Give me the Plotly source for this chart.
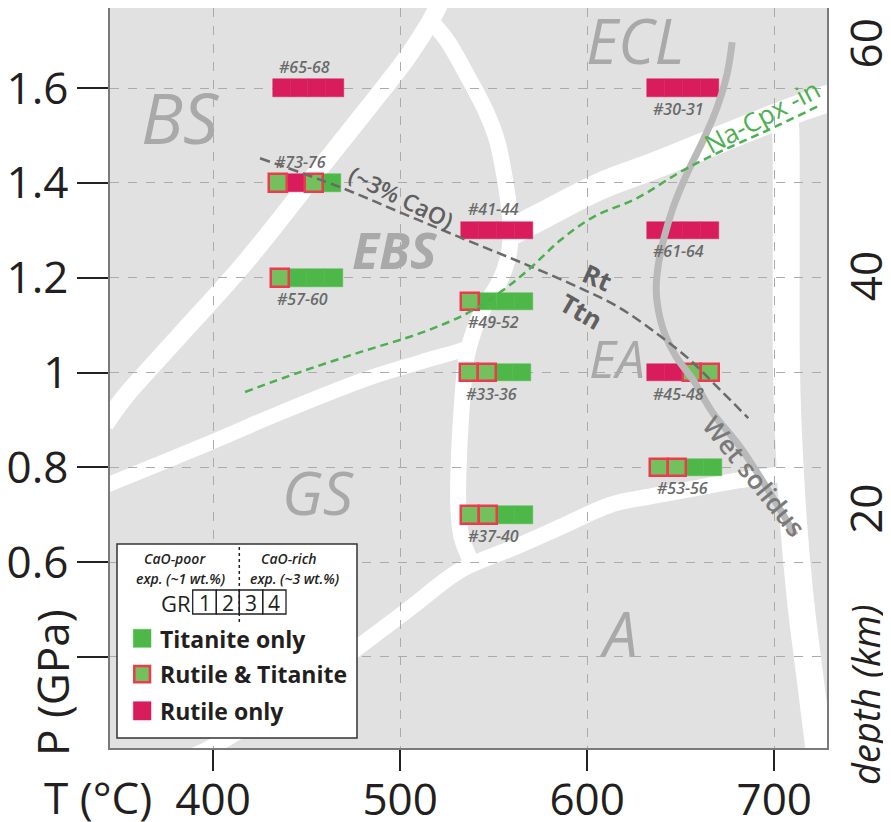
import plotly.graph_objects as go

# ---------------- data ----------------
# experiment bars: centre temperature (°C), pressure (GPa), sample label, label above?, GR1-4 phases
bar_T = [451, 449, 450, 552, 552, 551, 552, 651, 651, 651, 653]
bar_P = [1.60, 1.40, 1.20, 1.30, 1.15, 1.00, 0.70, 1.60, 1.30, 1.00, 0.80]
bar_label = ["#65-68", "#73-76", "#57-60", "#41-44", "#49-52", "#33-36", "#37-40",
             "#30-31", "#61-64", "#45-48", "#53-56"]
bar_label_above = [True, True, False, True, False, False, False, False, False, False, False]
# R = rutile only, RT = rutile & titanite, T = titanite only
bar_phases = [
    ["R", "R", "R", "R"],
    ["RT", "R", "RT", "T"],
    ["RT", "T", "T", "T"],
    ["R", "R", "R", "R"],
    ["RT", "T", "T", "T"],
    ["RT", "RT", "T", "T"],
    ["RT", "RT", "T", "T"],
    ["R", "R", "R", "R"],
    ["R", "R", "R", "R"],
    ["R", "R", "RT", "RT"],
    ["RT", "RT", "T", "T"],
]
cell_width_T = 9.6      # °C per GR cell
cell_height_P = 0.037   # GPa

# white facies-boundary bands (T, P)
bs_T = [342.2, 354.5, 382.4, 418.2, 457.2, 484.0, 502.7, 515.0, 521.4]
bs_P = [0.891, 0.957, 1.079, 1.237, 1.431, 1.564, 1.659, 1.733, 1.781]

ebs_T = [517.1, 525.7, 535.8, 545.5, 551.9, 556.1, 558.8, 558.3, 553.5, 545.5, 539.6,
         535.3, 533.2, 531.6, 531.0, 532.6, 537.4]
ebs_P = [1.739, 1.697, 1.627, 1.554, 1.488, 1.406, 1.322, 1.254, 1.195, 1.142, 1.090,
         1.026, 0.942, 0.837, 0.731, 0.657, 0.605]

gs_T = [342.2, 393.0, 435.8, 478.6, 510.7, 529.4, 536.4]
gs_P = [0.761, 0.843, 0.915, 0.982, 1.022, 1.043, 1.052]

ecl_T = [556.1, 577.5, 606.9, 633.7, 660.4, 692.5, 713.9, 732.6]
ecl_P = [1.290, 1.334, 1.393, 1.433, 1.475, 1.526, 1.558, 1.583]

rv_T = [705.9, 706.4, 706.4, 706.4, 707.5, 710.2, 714.0, 719.3, 724.6]
rv_P = [1.549, 1.448, 1.258, 1.047, 0.879, 0.689, 0.520, 0.351, 0.183]

low_T = [390.4, 401.1, 435.8, 477.0, 505.3, 532.1, 560.4, 585.6, 612.3, 635.3, 660.4,
         681.8, 697.9, 711.2]
low_P = [0.193, 0.214, 0.299, 0.419, 0.503, 0.583, 0.630, 0.674, 0.721, 0.740, 0.758,
         0.773, 0.782, 0.794]

# wet solidus
ws_T = [677.5, 674.9, 669.5, 662.0, 653.5, 646.0, 641.2, 638.0, 636.9, 638.0, 641.7,
        647.6, 656.7, 666.8, 681.8, 696.8, 711.2]
ws_P = [1.697, 1.632, 1.560, 1.490, 1.421, 1.349, 1.286, 1.227, 1.174, 1.132, 1.079,
        1.033, 0.984, 0.917, 0.843, 0.752, 0.657]

# rutile / titanite boundary (~3% CaO)
rt_T = [425.1, 467.9, 500.0, 532.1, 564.2, 596.3, 617.6, 639.0, 655.1, 668.4, 686.1]
rt_P = [1.452, 1.391, 1.338, 1.285, 1.233, 1.178, 1.136, 1.077, 1.026, 0.974, 0.904]

# Na-Cpx-in
cpx_T = [417.1, 446.5, 478.6, 510.7, 535.8, 555.1, 569.5, 585.6, 603.2, 626.7, 649.7,
         669.5, 696.3, 724.6]
cpx_P = [0.959, 1.001, 1.043, 1.083, 1.125, 1.174, 1.220, 1.279, 1.328, 1.368, 1.423,
         1.463, 1.511, 1.564]

# field labels
field_text = ["BS", "ECL", "EBS", "EA", "GS", "A"]
field_T = [382.4, 625.7, 497.3, 616.0, 456.1, 616.6]
field_P = [1.539, 1.701, 1.258, 1.031, 0.748, 0.451]

x_ticks = [400, 500, 600, 700]
y_ticks = [0.4, 0.6, 0.8, 1.0, 1.2, 1.4, 1.6]
y_ticktext = ["", "0.6", "0.8", "1", "1.2", "1.4", "1.6"]
depth_ticks = [20, 40, 60]

T_range = [344.9, 728.2]
P_range = [0.208, 1.769]
depth_range = [0.0, 63.6]

# ---------------- styles ----------------
FONT = "Open Sans"
C_TTN = "#4db848"
C_RT_FILL = "#74c05c"
C_RT_LINE = "#ec3a4e"
C_RUT = "#d81c5c"
BG = "#e1e1e1"
FIELD_C = "#a9a9a9"

# the page body has an 8 px margin: figure is drawn from (8, 8) in the window
OFF = 8
W, H = 891 - OFF, 822 - OFF
ML, MR, MT, MB = 102, 64, 0, 74
PW, PH = W - ML - MR, H - MT - MB


def px2paper(px, py):
    fx, fy = px - OFF, py - OFF
    return (fx - ML) / PW, (H - MB - fy) / PH


def smooth_path(xs, ys):
    pts = list(zip(xs, ys))
    n = len(pts)
    d = f"M {pts[0][0]},{pts[0][1]}"
    for i in range(n - 1):
        p0 = pts[i - 1] if i > 0 else pts[i]
        p1 = pts[i]
        p2 = pts[i + 1]
        p3 = pts[i + 2] if i + 2 < n else pts[i + 1]
        c1 = (p1[0] + (p2[0] - p0[0]) / 6, p1[1] + (p2[1] - p0[1]) / 6)
        c2 = (p2[0] - (p3[0] - p1[0]) / 6, p2[1] - (p3[1] - p1[1]) / 6)
        d += f" C {c1[0]},{c1[1]} {c2[0]},{c2[1]} {p2[0]},{p2[1]}"
    return d


fig = go.Figure()
shapes = []
annotations = []

# white bands (below grid)
for xs, ys, w in [(bs_T, bs_P, 18), (ebs_T, ebs_P, 16), (gs_T, gs_P, 15),
                  (ecl_T, ecl_P, 27), (rv_T, rv_P, 27), (low_T, low_P, 16)]:
    shapes.append(dict(type="path", path=smooth_path(xs, ys), xref="x", yref="y",
                       line=dict(color="white", width=w), fillcolor="rgba(0,0,0,0)",
                       layer="below"))

# field labels
for t, x, y in zip(field_text, field_T, field_P):
    size = {"BS": 70, "ECL": 62, "EBS": 50, "EA": 52, "GS": 60, "A": 62}[t]
    annotations.append(dict(x=x, y=y, xref="x", yref="y", text=t, showarrow=False,
                            font=dict(family=FONT, size=size, color=FIELD_C,
                                      style="italic",
                                      weight=700 if t == "EBS" else 400)))

# wet solidus
fig.add_trace(go.Scatter(x=ws_T, y=ws_P, mode="lines", line=dict(color="#b9b9b9", width=7, shape="spline"),
                         hoverinfo="skip", showlegend=False))
# Rt/Ttn
fig.add_trace(go.Scatter(x=rt_T, y=rt_P, mode="lines",
                         line=dict(color="#6a6a6a", width=2.5, dash="10px,5px", shape="spline"),
                         hoverinfo="skip", showlegend=False))
# Na-Cpx-in
fig.add_trace(go.Scatter(x=cpx_T, y=cpx_P, mode="lines",
                         line=dict(color="#4caf50", width=2.5, dash="8px,5px", shape="spline"),
                         hoverinfo="skip", showlegend=False))

# bars
cells = {"R": ([], [], []), "RT": ([], [], []), "T": ([], [], [])}
for tc, p, phases in zip(bar_T, bar_P, bar_phases):
    left = tc - 2 * cell_width_T
    for i, ph in enumerate(phases):
        cells[ph][0].append(p)
        cells[ph][1].append(left + i * cell_width_T)
        cells[ph][2].append(cell_width_T)
styles = {"T": (C_TTN, C_TTN, 0.5), "R": (C_RUT, C_RUT, 0.5), "RT": (C_RT_FILL, C_RT_LINE, 2.5)}
for ph in ["T", "R", "RT"]:
    ys, bases, ws = cells[ph]
    fill, lc, lw = styles[ph]
    fig.add_trace(go.Bar(y=ys, x=ws, base=bases, orientation="h",
                         width=[cell_height_P] * len(ys),
                         marker=dict(color=fill, line=dict(color=lc, width=lw)),
                         hoverinfo="skip", showlegend=False))

for tc, p, lab, above in zip(bar_T, bar_P, bar_label, bar_label_above):
    annotations.append(dict(x=tc - 2, y=p, xref="x", yref="y", text=lab, showarrow=False,
                            yshift=21 if above else -21,
                            font=dict(family=FONT, size=16, color="#6a6a6a",
                                      style="italic", weight=600)))

# line labels
annotations += [
    dict(x=500.5, y=1.370, xref="x", yref="y", text="(~3% CaO)", showarrow=False, textangle=26,
         font=dict(family=FONT, size=23, color="#5f5f5f", weight=600)),
    dict(x=605.3, y=1.201, xref="x", yref="y", text="Rt", showarrow=False, textangle=24,
         font=dict(family=FONT, size=26, color="#5f5f5f", weight=700)),
    dict(x=596.8, y=1.130, xref="x", yref="y", text="Ttn", showarrow=False, textangle=30,
         font=dict(family=FONT, size=26, color="#5f5f5f", weight=700)),
    dict(x=693.6, y=1.541, xref="x", yref="y", text="Na-Cpx -in", showarrow=False, textangle=-28,
         font=dict(family=FONT, size=26, color="#4caf50")),
    dict(x=689.3, y=0.782, xref="x", yref="y", text="Wet solidus", showarrow=False, textangle=51,
         font=dict(family=FONT, size=26, color="#7a7a7a", weight=600)),
]


def label(px, py, text, size, **kw):
    a, b = px2paper(px, py)
    f = dict(family=FONT, size=size, color="#231f20")
    f.update(kw.pop("font", {}))
    d = dict(x=a, y=b, xref="paper", yref="paper", text=text, showarrow=False, font=f,
             xanchor="center", yanchor="middle")
    d.update(kw)
    annotations.append(d)


def rect(x0, y0, x1, y1, **kw):
    a0, b0 = px2paper(x0, y1)
    a1, b1 = px2paper(x1, y0)
    d = dict(type="rect", xref="paper", yref="paper", x0=a0, y0=b0, x1=a1, y1=b1)
    d.update(kw)
    shapes.append(d)


# axis titles
label(98, 797, "T (°C)", 44)
label(52, 683, "P (GPa)", 44, textangle=-90)
label(865, 695, "depth (km)", 38, textangle=-90, font=dict(style="italic"))

# ---------- key box ----------
rect(117, 544, 357, 738, line=dict(color="#333333", width=1.5), fillcolor="white", layer="above")
a0, b0 = px2paper(239.3, 547)
a1, b1 = px2paper(239.3, 622)
shapes.append(dict(type="line", xref="paper", yref="paper", x0=a0, y0=b0, x1=a1, y1=b1,
                   line=dict(color="#222222", width=1.5, dash="dot")))
edges = [192.7, 216.3, 239.3, 262.7, 286]
for i in range(4):
    rect(edges[i], 590, edges[i + 1], 614, line=dict(color="#222222", width=1.3),
         fillcolor="rgba(0,0,0,0)")
    label((edges[i] + edges[i + 1]) / 2, 602.5, str(i + 1), 21)
label(176, 603, "GR", 22)
label(175, 558, "CaO-poor", 14, font=dict(style="italic", weight=600))
label(180.5, 578, "exp. (~1 wt.%)", 14, font=dict(style="italic", weight=600))
label(289, 558, "CaO-rich", 14, font=dict(style="italic", weight=600))
label(294.5, 578, "exp. (~3 wt.%)", 14, font=dict(style="italic", weight=600))

rect(133.3, 629.3, 151, 647.3, line=dict(color=C_TTN, width=0.5), fillcolor=C_TTN)
rect(134.3, 666, 150, 682.3, line=dict(color=C_RT_LINE, width=2.5), fillcolor=C_RT_FILL)
rect(133.3, 701.7, 151, 720, line=dict(color=C_RUT, width=0.5), fillcolor=C_RUT)
for py, t in [(638.5, "Titanite only"), (674, "Rutile &amp; Titanite"), (711, "Rutile only")]:
    label(158, py, t, 23, xanchor="left", font=dict(weight=700))

# invisible anchor for the depth axis
fig.add_trace(go.Scatter(x=[x_ticks[0]], y=[depth_ticks[0]], yaxis="y2", mode="markers",
                         marker=dict(opacity=0), hoverinfo="skip", showlegend=False))

fig.update_layout(
    width=W, height=H,
    margin=dict(l=ML, r=MR, t=MT, b=MB, autoexpand=False),
    paper_bgcolor="white", plot_bgcolor=BG,
    barmode="overlay", bargap=0,
    showlegend=False,
    shapes=shapes, annotations=annotations,
    xaxis=dict(range=T_range, tickvals=x_ticks, ticks="outside", ticklen=21, tickwidth=1.5,
               tickcolor="#222222", showgrid=True, gridcolor="#ababab", griddash="dash",
               gridwidth=1, zeroline=False, showline=True, linecolor="#7a7a7a", linewidth=1.5,
               mirror=True, automargin=False, ticklabelstandoff=-9,
               tickfont=dict(family=FONT, size=44, color="#231f20")),
    yaxis=dict(range=P_range, tickvals=y_ticks, ticktext=y_ticktext, ticks="outside",
               ticklen=31, tickwidth=1.5, tickcolor="#222222", showgrid=True,
               gridcolor="#ababab", griddash="dash", gridwidth=1, zeroline=False,
               showline=True, linecolor="#7a7a7a", linewidth=1.5, mirror=True,
               automargin=False,
               tickfont=dict(family=FONT, size=44, color="#231f20")),
    yaxis2=dict(range=depth_range, overlaying="y", side="right", tickvals=depth_ticks,
                tickangle=-90, showgrid=False, zeroline=False, showline=False, ticks="",
                ticklabelstandoff=10, automargin=False,
                tickfont=dict(family=FONT, size=44, color="#231f20")),
)

fig.write_html("out.html")
